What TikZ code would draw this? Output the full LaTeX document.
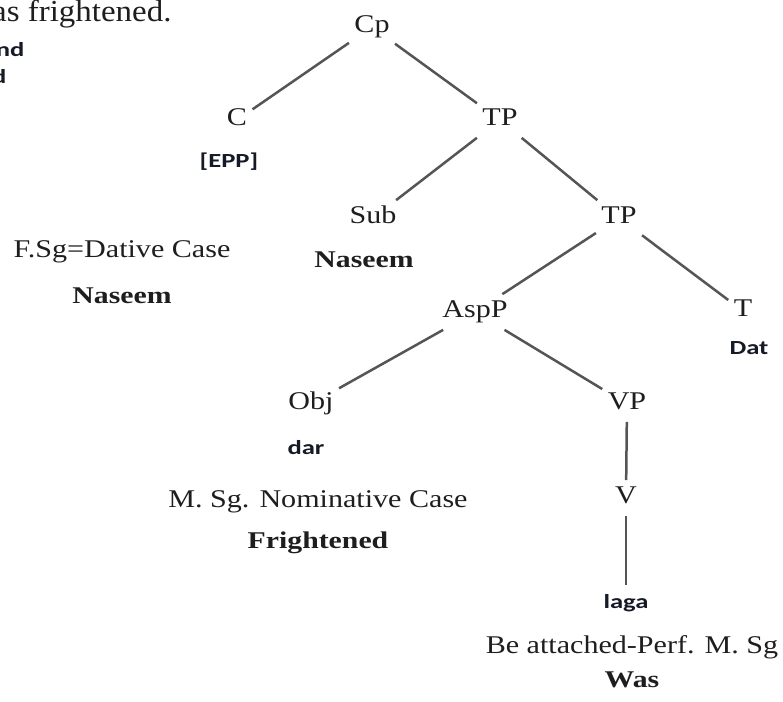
\documentclass[tikz,border=0pt]{standalone}
\usepackage{fontspec}
\setmainfont[FakeStretch=1.18]{Liberation Serif}
\newfontfamily\bserif[FakeStretch=1.24]{Liberation Serif}
\newfontfamily\bsans[FakeStretch=1.33]{Carlito}
\newfontfamily\headserif[FakeStretch=1.08]{Liberation Serif}
\definecolor{ink}{HTML}{1E1E1E}
\definecolor{sansink}{HTML}{161A26}
\definecolor{edge}{HTML}{555555}
\begin{document}
\begin{tikzpicture}[x=0.4pt,y=-0.4pt,
  cat/.style={text=ink,font=\fontsize{10.2}{12}\selectfont,
    inner xsep=2pt,inner ysep=2.2pt,text height=0.7em,text depth=0.25em},
  gloss/.style={text=ink,font=\fontsize{10.2}{12}\selectfont,inner sep=0pt},
  boldgloss/.style={text=ink,font=\bserif\bfseries\fontsize{9.6}{12}\selectfont,inner sep=0pt},
  sansword/.style={text=sansink,font=\bsans\bfseries\fontsize{8}{10}\selectfont,inner sep=0pt},
  sanscat/.style={cat,text=sansink,font=\bsans\bfseries\fontsize{8}{10}\selectfont},
  branch/.style={draw=edge,line width=1pt}]
\path[use as bounding box] (0,0) rectangle (783,702);
\clip (0,0) rectangle (783,702);

% running text cut off at the left margin
\node[text=ink,font=\headserif\fontsize{12.2}{14}\selectfont,inner sep=0pt,anchor=base east] (head) at (172,21) {as frightened.};
\node[sansword,anchor=base east] (frag1) at (25,56) {nd};
\node[sansword,anchor=base east] (frag2) at (7,83) {d};

% tree categories
\node[cat] (cp)   at (372,27)  {Cp};
\node[cat] (c)    at (237,120) {C};
\node[cat] (tp)   at (500,120) {TP};
\node[cat] (sub)  at (373,218) {Sub};
\node[cat] (tp2)  at (619,218) {TP};
\node[cat] (asp)  at (475,312) {AspP};
\node[cat] (t)    at (743,311) {T};
\node[cat] (obj)  at (311,404) {Obj};
\node[cat] (vp)   at (627,404) {VP};
\node[cat] (v)    at (626,498) {V};
\node[sanscat] (laga) at (626,603) {laga};

% branches
\draw[branch] (cp) -- (c);
\draw[branch] (cp) -- (tp);
\draw[branch] (tp) -- (sub);
\draw[branch] (tp) -- (tp2);
\draw[branch] (tp2) -- (asp);
\draw[branch] (tp2) -- (t);
\draw[branch] (asp) -- (obj);
\draw[branch] (asp) -- (vp);
\draw[branch] (vp) -- (v);
\draw[branch] (v) -- (laga);

% lexical items and glosses
\node[sansword] (epp) at (229,162) {[EPP]};
\node[boldgloss] (subword) at (364,260) {Naseem};
\node[gloss] (fsg) at (122,252) {F.Sg=Dative Case};
\node[boldgloss] (fsgword) at (122,296) {Naseem};
\node[sansword] (dat) at (749,348) {Dat};
\node[sansword] (dar) at (306,448) {dar};
\node[gloss] (msg) at (318,502) {M. Sg. Nominative Case};
\node[boldgloss] (fright) at (318,543) {Frightened};
\node[gloss] (beatt) at (632,647) {Be attached-Perf. M. Sg};
\node[boldgloss] (was) at (632,680) {Was};
\end{tikzpicture}
\end{document}
